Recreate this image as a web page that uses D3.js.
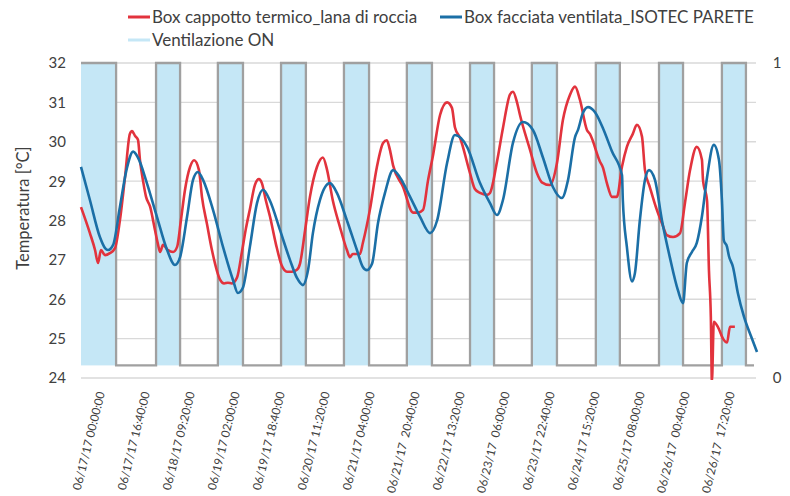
<!DOCTYPE html>
<html>
<head>
<meta charset="UTF-8">
<title>Box temperature</title>
<script src="https://d3js.org/d3.v7.min.js"></script>
<style>
  body {margin:0; background:#fff;}
  text {font-family: Lato, "Open Sans", sans-serif; fill:#404040;}
</style>
</head>
<body>
<div id="chart"></div>
<script>
// hours since 06/17/17 00:00 and temperature [°C]
var redH = [0,3.3,5.2,6.3,7.4,8.9,10.7,12.6,14.4,16.3,18.1,18.9,20.0,21.1,21.9,23.0,24.1,25.6,27.4,28.5,29.3,30.4,32.2,34.1,35.6,37.0,38.5,40.4,41.9,43.7,44.8,46.7,48.5,51.5,53.0,54.4,55.9,57.8,59.6,61.1,62.6,64.4,65.9,67.0,68.5,70.0,72.2,74.4,76.3,78.1,80.0,81.1,83.0,84.8,87.4,89.6,91.1,93.3,95.9,98.5,99.6,100.7,103.3,104.4,107.0,109.6,111.9,113.3,114.4,115.6,119.3,123.0,124.8,126.7,128.5,130.4,133.0,135.6,137.4,138.5,140.4,144.1,145.9,147.8,150.4,151.5,154.1,156.3,158.9,160.0,161.5,162.6,166.3,168.9,170.7,173.7,176.3,178.5,181.1,183.0,184.8,187.4,188.5,192.2,193.3,194.8,196.7,198.5,200.4,202.2,204.4,205.9,207.8,208.9,210.7,213.3,215.2,217.0,219.3,221.9,223.7,225.6,228.1,230.0,230.4,231.9,232.6,233.3,233.7,234.4,235.9,237.8,239.3,240.4,242.2];
var redT = [28.34,27.68,27.25,26.92,27.25,27.12,27.17,27.3,28.0,29.1,30.2,30.27,30.15,30.05,29.5,29.0,28.6,28.35,27.76,27.4,27.2,27.38,27.25,27.2,27.33,28.0,28.77,29.36,29.53,29.28,28.6,27.9,27.25,26.5,26.4,26.42,26.4,26.55,27.2,27.8,28.3,28.9,29.05,28.95,28.5,28.1,27.4,26.85,26.7,26.7,26.75,26.9,27.75,28.6,29.36,29.6,29.3,28.5,27.84,27.25,27.07,27.15,27.15,27.43,28.27,29.36,29.97,30.04,29.8,29.4,28.85,28.2,28.2,28.27,29.0,29.66,30.68,31.0,30.86,30.37,30.1,29.2,28.8,28.7,28.65,28.7,29.5,30.35,31.2,31.27,31.0,30.68,29.8,29.2,28.97,28.9,29.46,30.55,31.19,31.4,31.07,30.3,30.2,29.5,29.35,28.95,28.6,28.6,29.37,29.87,30.2,30.43,30.13,29.28,28.85,28.27,27.93,27.63,27.58,27.68,28.44,29.28,29.87,29.54,29.03,28.5,26.74,25.55,23.9,25.43,25.3,25.0,24.9,25.3,25.3];
var blueH = [0,3.3,7.0,8.9,10.0,11.9,14.4,17.0,19.3,21.1,24.4,28.1,31.9,34.8,36.7,39.3,41.5,43.3,45.2,48.9,52.6,56.3,58.1,60.0,62.6,65.2,67.4,70.0,73.7,77.4,80.0,82.2,84.1,85.9,88.5,92.2,94.8,98.5,102.2,104.4,105.9,107.8,110.0,112.6,115.6,118.1,121.9,125.6,129.3,131.9,135.6,138.5,143.0,147.8,151.5,154.1,156.3,160.0,163.7,167.4,171.1,174.8,178.1,180.4,183.0,184.1,185.9,187.8,190.4,193.3,196.7,200.4,200.7,202.2,204.1,205.2,207.0,208.9,210.4,212.6,215.2,218.1,221.1,223.0,224.4,226.3,228.1,230.0,231.9,234.4,236.3,237.4,238.1,239.3,240.0,241.5,243.3,245.6,248.3,250.4];
var blueT = [29.36,28.52,27.58,27.3,27.25,27.38,28.34,29.33,29.75,29.6,28.95,28.1,27.25,26.87,27.07,28.1,29.03,29.23,29.03,28.27,27.33,26.49,26.16,26.3,27.35,28.44,28.78,28.5,27.76,27.0,26.54,26.36,26.74,27.68,28.52,28.95,28.7,28.0,27.25,26.82,26.74,26.9,27.93,28.7,29.28,29.1,28.6,28.09,27.68,28.0,29.46,30.17,29.87,28.95,28.44,28.14,28.52,29.97,30.5,30.3,29.6,28.85,28.57,29.03,30.12,30.3,30.73,30.88,30.75,30.35,29.75,29.15,28.52,27.33,26.45,26.67,28.0,29.03,29.28,29.03,28.0,27.07,26.23,25.9,26.92,27.2,27.43,28.1,29.1,29.92,29.54,28.52,27.5,27.33,27.1,26.82,26.16,25.55,25.04,24.66];
// ventilation ON periods [start, end] in hours
var ventOn = [[0,13.0],[27.8,36.7],[50.7,60.0],[74.1,83.3],[97.4,106.7],[120.7,130.0],[144.1,153.0],[167.0,176.3],[190.7,199.6],[214.1,223.0],[237.4,246.3]];
var ventEnd = 249.3;
var ventLevel = {on: 1, off: 0.04};
var tickLabels = ["06/17/17 00:00:00","06/17/17 16:40:00","06/18/17 09:20:00","06/19/17 02:00:00","06/19/17 18:40:00","06/20/17 11:20:00","06/21/17 04:00:00","06/21/17  20:40:00","06/22/17 13:20:00","06/23/17  06:00:00","06/23/17 22:40:00","06/24/17 15:20:00","06/25/17 08:00:00","06/26/17  00:40:00","06/26/17  17:20:00"];
var tickStep = 1000 / 60; // every 16h40
var yTicks = [24,25,26,27,28,29,30,31,32];
var y2Ticks = [0,1];

var svg = d3.select("#chart").append("svg")
    .attr("width", 790)
    .attr("height", 496);

var x = d3.scaleLinear().domain([0, 250.4]).range([81, 757]);
var y = d3.scaleLinear().domain([24, 32]).range([378, 63]);
var y2 = d3.scaleLinear().domain([0, 1]).range([378, 63]);

svg.append("clipPath").attr("id", "plot")
  .append("rect").attr("x", 78).attr("y", 50).attr("width", 685).attr("height", 330);

// gridlines
svg.append("g").selectAll("line")
    .data(yTicks)
    .enter().append("line")
    .attr("x1", 81).attr("x2", 756)
    .attr("y1", function(d) {return y(d)})
    .attr("y2", function(d) {return y(d)})
    .attr("stroke", "#d9d9d9")
    .attr("stroke-width", 1.3);

// ventilation area
svg.append("g").selectAll("rect")
    .data(ventOn)
    .enter().append("rect")
    .attr("x", function(d) {return x(d[0])})
    .attr("width", function(d) {return x(d[1]) - x(d[0])})
    .attr("y", y2(ventLevel.on))
    .attr("height", y2(ventLevel.off) - y2(ventLevel.on))
    .attr("fill", "#c5e7f6");

var step = [];
ventOn.forEach(function(d, i) {
  if (i > 0) step.push([d[0], ventLevel.off]);
  step.push([d[0], ventLevel.on], [d[1], ventLevel.on], [d[1], ventLevel.off]);
});
step.push([ventEnd, ventLevel.off]);

svg.append("path")
    .datum(step)
    .attr("fill", "none")
    .attr("stroke", "#a0a0a0")
    .attr("stroke-width", 2.3)
    .attr("d", d3.line().x(function(d) {return x(d[0])}).y(function(d) {return y2(d[1])}));

// temperature lines
var line = d3.line()
    .curve(d3.curveMonotoneX)
    .x(function(d) {return x(d[0])})
    .y(function(d) {return y(d[1])});

svg.append("path")
    .datum(d3.zip(redH, redT))
    .attr("clip-path", "url(#plot)")
    .attr("fill", "none")
    .attr("stroke", "#e2333d")
    .attr("stroke-width", 2.6)
    .attr("stroke-linejoin", "round")
    .attr("d", line);

svg.append("path")
    .datum(d3.zip(blueH, blueT))
    .attr("clip-path", "url(#plot)")
    .attr("fill", "none")
    .attr("stroke", "#1b6fa6")
    .attr("stroke-width", 2.6)
    .attr("stroke-linejoin", "round")
    .attr("d", line);

// left axis
svg.append("g").selectAll("text")
    .data(yTicks)
    .enter().append("text")
    .attr("x", 66)
    .attr("y", function(d) {return y(d)})
    .attr("dy", "0.36em")
    .attr("text-anchor", "end")
    .style("font-size", "15px")
    .text(function(d) {return d});

svg.append("text")
    .attr("transform", "translate(29,208) rotate(-90)")
    .attr("text-anchor", "middle")
    .style("font-size", "16.5px")
    .text("Temperatura [°C]");

// right axis
svg.append("g").selectAll("text")
    .data(y2Ticks)
    .enter().append("text")
    .attr("x", 777)
    .attr("y", function(d) {return y2(d)})
    .attr("dy", "0.36em")
    .attr("text-anchor", "middle")
    .style("font-size", "15px")
    .text(function(d) {return d});

// x labels
svg.append("g").selectAll("text")
    .data(tickLabels)
    .enter().append("text")
    .attr("transform", function(d, i) {return "translate(" + (x(i * tickStep) + 20) + ",392) rotate(-76)"})
    .attr("text-anchor", "end")
    .attr("dy", "0.35em")
    .style("font-size", "11.7px")
    .style("white-space", "pre")
    .text(function(d) {return d});

// legend
var legend = [
  {name: "Box cappotto termico_lana di roccia", color: "#e2333d", lx: 128, ly: 17},
  {name: "Box facciata ventilata_ISOTEC PARETE", color: "#1b6fa6", lx: 440, ly: 17},
  {name: "Ventilazione ON", color: "#c5e7f6", lx: 128, ly: 40}
];
var lg = svg.append("g").selectAll("g")
    .data(legend)
    .enter().append("g")
    .attr("transform", function(d) {return "translate(" + d.lx + "," + d.ly + ")"});
lg.append("line")
    .attr("x1", 0).attr("x2", 22)
    .attr("stroke", function(d) {return d.color})
    .attr("stroke-width", 3);
lg.append("text")
    .attr("x", 24)
    .attr("dy", "0.36em")
    .style("font-size", "17px")
    .text(function(d) {return d.name});
</script>
</body>
</html>
